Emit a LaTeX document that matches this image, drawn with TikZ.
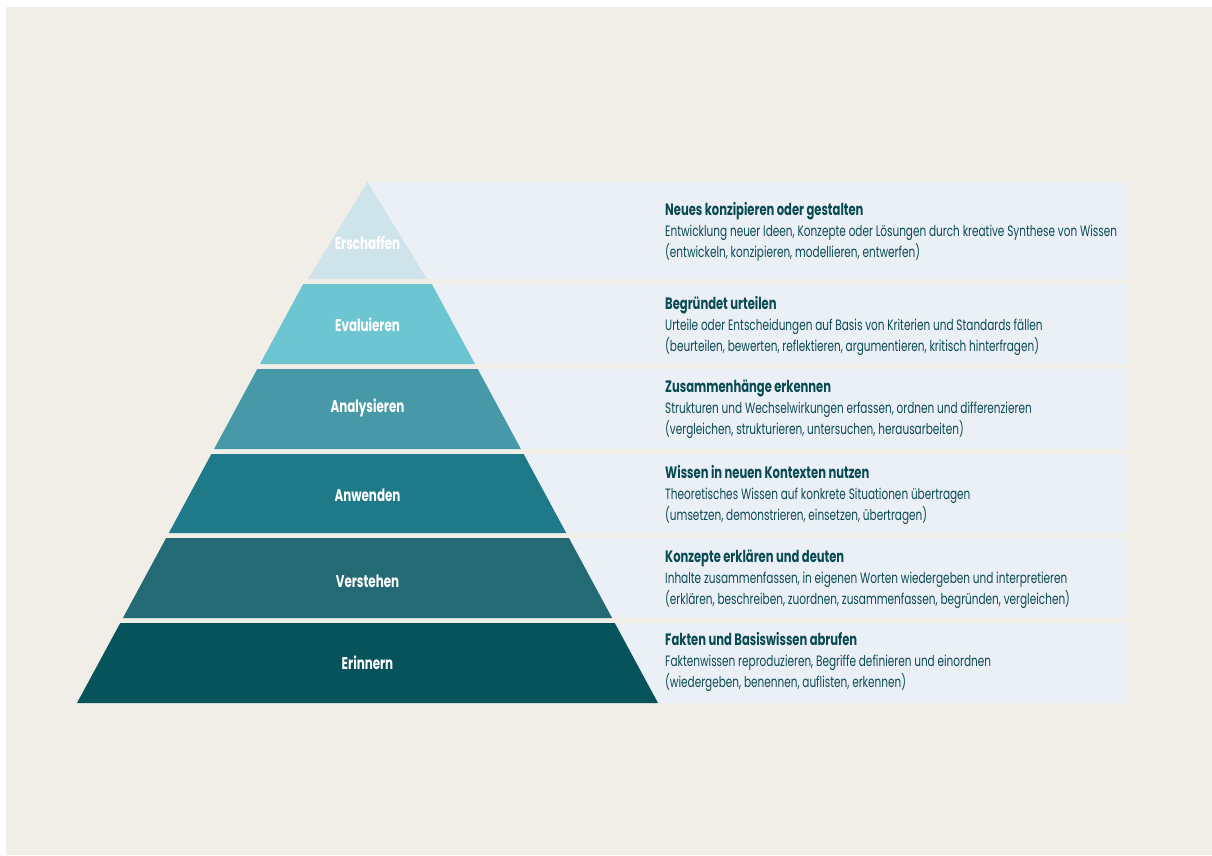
\documentclass[tikz,border=0pt]{standalone}
\usepackage{fontspec}
\setmainfont{Poppins}[FakeStretch=0.70]
\usetikzlibrary{positioning}

\definecolor{bgbeige}{HTML}{F1EEE7}
\definecolor{panelblue}{HTML}{EBF0F7}
\definecolor{lvlone}{HTML}{CFE3EA}
\definecolor{lvltwo}{HTML}{6DC5D1}
\definecolor{lvlthree}{HTML}{4899A7}
\definecolor{lvlfour}{HTML}{1E7988}
\definecolor{lvlfive}{HTML}{236A74}
\definecolor{lvlsix}{HTML}{07535C}
\definecolor{tealtext}{HTML}{0A4A53}

\newcommand{\headline}[1]{{\fontsize{16.5}{21}\selectfont\bfseries #1}}

\tikzset{
  panel/.style={fill=panelblue, draw=none},
  lvllabel/.style={text=white, font=\fontsize{17}{19}\selectfont\bfseries, inner sep=0pt},
  desc/.style={anchor=west, align=left, inner sep=0pt, text=tealtext,
    font=\fontsize{15}{21}\selectfont}
}

\begin{document}
\begin{tikzpicture}[x=1pt, y=-1pt]
    % Page and background
    \useasboundingbox (0,0) rectangle (1212,855);
    \fill[white] (0,0) rectangle (1212,855);
    \fill[bgbeige] (6,7) rectangle (1212,855);

    % Text panels (behind the pyramid)
    \fill[panel] (368,182) rectangle (1127,279);
    \fill[panel] (368,284) rectangle (1127,364);
    \fill[panel] (368,369) rectangle (1127,449);
    \fill[panel] (368,454) rectangle (1127,533);
    \fill[panel] (368,538) rectangle (1127,618);
    \fill[panel] (368,623) rectangle (1127,703);

    % Pyramid levels
    \fill[lvlone] (367.5,182) -- (427,279) -- (308,279) -- cycle;
    \fill[lvltwo] (303.2,284) -- (431.8,284) -- (475,364) -- (260,364) -- cycle;
    \fill[lvlthree] (257.3,369) -- (477.7,369) -- (520.9,449) -- (214.1,449) -- cycle;
    \fill[lvlfour] (211.4,454) -- (523.6,454) -- (566.2,533) -- (168.8,533) -- cycle;
    \fill[lvlfive] (166.1,538) -- (568.9,538) -- (612.1,618) -- (122.9,618) -- cycle;
    \fill[lvlsix] (120.2,623) -- (614.8,623) -- (658,703) -- (77,703) -- cycle;

    % Level names
    \node[lvllabel] (erschaffen) at (367.5,243) {Erschaffen};
    \node[lvllabel] (evaluieren) at (367.5,325) {Evaluieren};
    \node[lvllabel] (analysieren) at (367.5,408) {Analysieren};
    \node[lvllabel] (anwenden) at (367.5,495) {Anwenden};
    \node[lvllabel] (verstehen) at (367.5,581) {Verstehen};
    \node[lvllabel] (erinnern) at (367.5,663) {Erinnern};

    % Descriptions
    \node[desc] (d-erschaffen) at (665,232) {\headline{Neues konzipieren oder gestalten}\\
      Entwicklung neuer Ideen, Konzepte oder Lösungen durch kreative Synthese von Wissen\\
      (entwickeln, konzipieren, modellieren, entwerfen)};
    \node[desc] (d-evaluieren) at (665,326) {\headline{Begründet urteilen}\\
      Urteile oder Entscheidungen auf Basis von Kriterien und Standards fällen\\
      (beurteilen, bewerten, reflektieren, argumentieren, kritisch hinterfragen)};
    \node[desc] (d-analysieren) at (665,409) {\headline{Zusammenhänge erkennen}\\
      Strukturen und Wechselwirkungen erfassen, ordnen und differenzieren\\
      (vergleichen, strukturieren, untersuchen, herausarbeiten)};
    \node[desc] (d-anwenden) at (665,495) {\headline{Wissen in neuen Kontexten nutzen}\\
      Theoretisches Wissen auf konkrete Situationen übertragen\\
      (umsetzen, demonstrieren, einsetzen, übertragen)};
    \node[desc] (d-verstehen) at (665,579) {\headline{Konzepte erklären und deuten}\\
      Inhalte zusammenfassen, in eigenen Worten wiedergeben und interpretieren\\
      (erklären, beschreiben, zuordnen, zusammenfassen, begründen, vergleichen)};
    \node[desc] (d-erinnern) at (665,662) {\headline{Fakten und Basiswissen abrufen}\\
      Faktenwissen reproduzieren, Begriffe definieren und einordnen\\
      (wiedergeben, benennen, auflisten, erkennen)};
\end{tikzpicture}
\end{document}
